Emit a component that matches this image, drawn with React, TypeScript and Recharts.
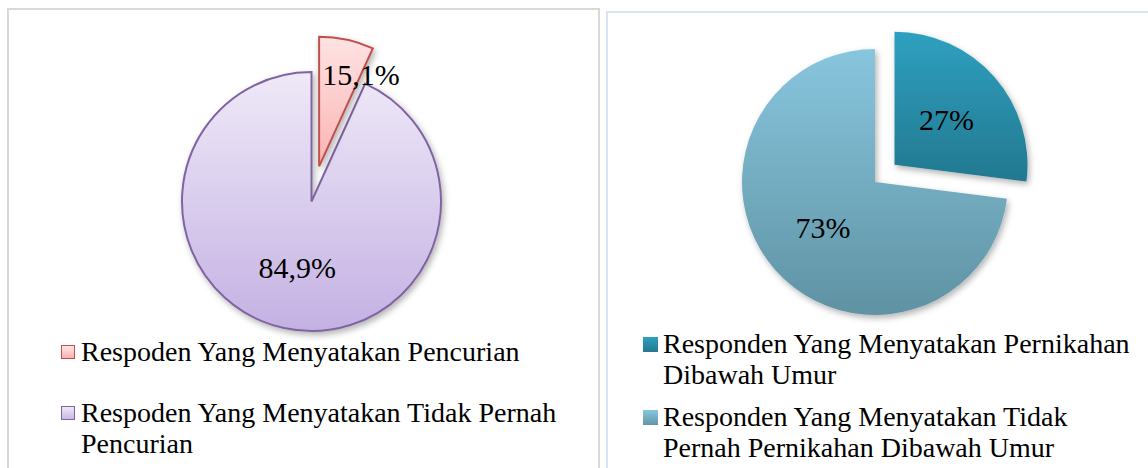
import { Cell, Pie, PieChart } from "recharts";

// left chart: theft
const theftNames = ["Respoden Yang Menyatakan Pencurian", "Respoden Yang Menyatakan Tidak Pernah Pencurian"];
const theftShare = [6.8, 93.2]; // slice sizes as drawn in the picture
const theftLabels = ["15,1%", "84,9%"];

// right chart: underage marriage
const marriageNames = [
  "Responden Yang Menyatakan Pernikahan Dibawah Umur",
  "Responden Yang Menyatakan Tidak Pernah Pernikahan Dibawah Umur",
];
const marriageShare = [27, 73];
const marriageLabels = ["27%", "73%"];

const SERIF = '"Times New Roman", "Liberation Serif", serif';
const RAD = Math.PI / 180;

const theftFills = ["url(#g-red)", "url(#g-lilac)"];
const theftStrokes = ["#c0504d", "#8064a2"];
const theftMarkers = ["linear-gradient(#ffe6e6, #f9b1b1)", "linear-gradient(#eee8f7, #c9b8e6)"];
const marriageFills = ["url(#g-teal)", "url(#g-sky)"];
const marriageMarkers = ["linear-gradient(#2fa0c0, #23788f)", "linear-gradient(#88c6de, #6395a6)"];

function makeLabel(labels: string[], show: number) {
  return (p: any) => {
    if (p.index !== show) return null;
    const span = Math.abs(p.endAngle - p.startAngle);
    const narrow = span < 40;
    const ang = narrow ? p.endAngle : p.midAngle;
    const r = p.outerRadius * (narrow ? 0.78 : 0.52);
    const x = p.cx + r * Math.cos(-ang * RAD);
    const y = p.cy + r * Math.sin(-ang * RAD);
    return (
      <text x={x} y={y} textAnchor="middle" dominantBaseline="central" fontSize={30} fontFamily={SERIF} fill="#000">
        {labels[p.index]}
      </text>
    );
  };
}

function Gradients() {
  return (
    <defs>
      <linearGradient id="g-red" x1="0" y1="0" x2="0" y2="1">
        <stop offset="0%" stopColor="#ffe3e3" />
        <stop offset="100%" stopColor="#fbb3b3" />
      </linearGradient>
      <linearGradient id="g-lilac" x1="0" y1="0" x2="0" y2="1">
        <stop offset="0%" stopColor="#efe9f8" />
        <stop offset="100%" stopColor="#c4b1e3" />
      </linearGradient>
      <linearGradient id="g-teal" x1="0" y1="0" x2="0" y2="1">
        <stop offset="0%" stopColor="#2fa0c0" />
        <stop offset="100%" stopColor="#22788f" />
      </linearGradient>
      <linearGradient id="g-sky" x1="0" y1="0" x2="0" y2="1">
        <stop offset="0%" stopColor="#88c6de" />
        <stop offset="100%" stopColor="#5f92a3" />
      </linearGradient>
      <filter id="shadow" x="-20%" y="-20%" width="140%" height="140%">
        <feDropShadow dx="2" dy="3" stdDeviation="3" floodColor="#000" floodOpacity="0.3" />
      </filter>
    </defs>
  );
}

interface PieProps {
  values: number[];
  labels: string[];
  fills: string[];
  strokes?: string[];
  cx: number;
  cy: number;
  radius: number;
  explode: number;
}

// slice 0 is pulled out along its bisector, slice 1 stays at the centre
function ExplodedPie({ values, labels, fills, strokes, cx, cy, radius, explode }: PieProps) {
  const total = values.reduce((a, b) => a + b, 0);
  const mid = (90 - (values[0] / total) * 180) * RAD;
  const ex = cx + explode * Math.cos(mid);
  const ey = cy - explode * Math.sin(mid);
  const data = values.map((v, i) => ({ name: labels[i], value: v }));
  const sw = strokes ? 2 : 0;
  return (
    <PieChart width={1148} height={468} margin={{ top: 0, right: 0, bottom: 0, left: 0 }}>
      <Gradients />
      <Pie
        data={data}
        dataKey="value"
        cx={cx}
        cy={cy}
        outerRadius={radius}
        startAngle={90}
        endAngle={-270}
        label={makeLabel(labels, 1)}
        labelLine={false}
        isAnimationActive={false}
      >
        {data.map((_, i) => (
          <Cell
            key={i}
            fill={i === 1 ? fills[1] : "transparent"}
            stroke={i === 1 && strokes ? strokes[1] : "none"}
            strokeWidth={sw}
            filter={i === 1 ? "url(#shadow)" : undefined}
          />
        ))}
      </Pie>
      <Pie
        data={data}
        dataKey="value"
        cx={ex}
        cy={ey}
        outerRadius={radius}
        startAngle={90}
        endAngle={-270}
        label={makeLabel(labels, 0)}
        labelLine={false}
        legendType="none"
        isAnimationActive={false}
      >
        {data.map((_, i) => (
          <Cell
            key={i}
            fill={i === 0 ? fills[0] : "transparent"}
            stroke={i === 0 && strokes ? strokes[0] : "none"}
            strokeWidth={sw}
            filter={i === 0 ? "url(#shadow)" : undefined}
          />
        ))}
      </Pie>
    </PieChart>
  );
}

interface LegendProps {
  names: string[];
  markers: string[];
  borders?: string[];
  left: number;
  top: number;
  height: number;
  textWidth: number;
  size: number;
  gap: number;
}

function LegendBlock({ names, markers, borders, left, top, height, textWidth, size, gap }: LegendProps) {
  return (
    <div
      style={{
        position: "absolute",
        left,
        top,
        height,
        display: "flex",
        flexDirection: "column",
        justifyContent: "space-between",
        fontFamily: SERIF,
        fontSize: 28,
        lineHeight: "31px",
        color: "#000",
      }}
    >
      {names.map((n, i) => (
        <div key={n} style={{ display: "flex", alignItems: "flex-start" }}>
          <span
            style={{
              boxSizing: "border-box",
              width: size,
              height: size,
              marginTop: 9,
              marginRight: gap,
              flex: "none",
              background: markers[i],
              border: borders ? `1.5px solid ${borders[i]}` : "none",
            }}
          />
          <span style={{ width: textWidth }}>{n}</span>
        </div>
      ))}
    </div>
  );
}

export default function App() {
  return (
    <div style={{ position: "absolute", left: 0, top: 0, width: 1148, height: 468, background: "#fff", overflow: "hidden" }}>
      <div style={{ position: "absolute", left: 7, top: 8, width: 589, height: 480, border: "2px solid #d9d9d9" }} />
      <div style={{ position: "absolute", left: 606, top: 11, width: 600, height: 480, border: "2px solid #d6e4f5" }} />
      <div style={{ position: "absolute", left: 0, top: 0 }}>
        <ExplodedPie
          values={theftShare}
          labels={theftLabels}
          fills={theftFills}
          strokes={theftStrokes}
          cx={311.5}
          cy={201.5}
          radius={129.5}
          explode={36}
        />
      </div>
      <div style={{ position: "absolute", left: 0, top: 0 }}>
        <ExplodedPie
          values={marriageShare}
          labels={marriageLabels}
          fills={marriageFills}
          cx={875}
          cy={182}
          radius={133}
          explode={26}
        />
      </div>
      <LegendBlock
        names={theftNames}
        markers={theftMarkers}
        borders={theftStrokes}
        left={61}
        top={336}
        height={123}
        textWidth={510}
        size={14}
        gap={6}
      />
      <LegendBlock
        names={marriageNames}
        markers={marriageMarkers}
        left={643}
        top={328}
        height={135}
        textWidth={482}
        size={15}
        gap={5}
      />
    </div>
  );
}
